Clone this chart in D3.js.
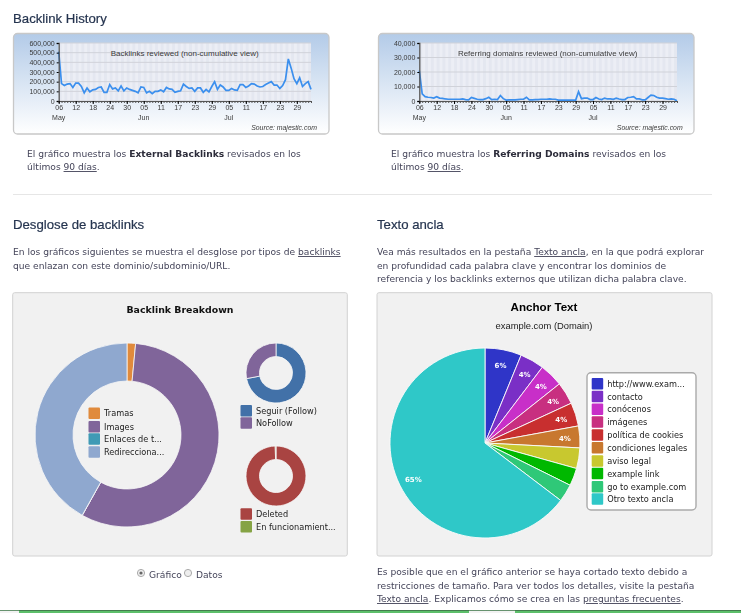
<!DOCTYPE html>
<html>
<head>
<meta charset="utf-8">
<script src="https://cdn.jsdelivr.net/npm/d3@7"></script>
<style>
  html, body { margin: 0; padding: 0; background: #fff; overflow: hidden; }
  svg { display: block; filter: blur(0.35px); }
  .body-text { font-family: "DejaVu Sans"; font-size: 9.15px; fill: #45455a; }
  .heading { font-family: "Liberation Sans"; font-size: 13.2px; fill: #25344f; stroke: #25344f; stroke-width: 0.2px; }
  .hist text { font-family: "Liberation Sans"; font-size: 7px; fill: #3a3a3a; }
  .legend-text { font-family: "DejaVu Sans"; font-size: 8.2px; fill: #222; }
</style>
</head>
<body>
<svg id="page" width="741" height="613"></svg>
<script>
var backlinksReviewed = [
  510, 180, 160, 175, 180, 140, 185, 185, 150, 85,
  135, 95, 115, 120, 140, 145, 90, 90, 170, 125,
  135, 105, 155, 105, 135, 120, 110, 100, 85, 145,
  140, 85, 100, 75, 100, 100, 115, 95, 140, 125,
  120, 90, 100, 105, 175, 150, 130, 135, 100, 135,
  135, 90, 120, 95, 150, 200, 120, 165, 145, 110,
  110, 130, 115, 110, 170, 170, 140, 155, 180, 175,
  155, 145, 150, 170, 185, 200, 165, 165, 130, 160,
  220, 435, 340, 230, 180, 240, 150, 180, 200, 120
];
var domainsReviewed = [
  21, 5, 3, 2.6, 2.4, 2, 3, 2, 1.8, 1.4,
  1.2, 1.2, 1.2, 1.2, 1.2, 1.4, 1, 0.8, 2.4, 1.8,
  1.2, 1, 1, 1.6, 2.6, 1, 1.2, 1, 3.8, 1.6,
  0.6, 0.8, 0.8, 0.8, 1, 1.2, 1.2, 2.6, 0.8, 0.8,
  1, 1, 1.2, 1.2, 1.2, 1.4, 1.2, 1.2, 0.6, 0.6,
  0.6, 0.6, 0.6, 0.6, 0.6, 6.4, 1.6, 2, 2, 1,
  1, 2.4, 1.4, 1, 2, 1.4, 1.4, 1.2, 2, 1.4,
  1, 1, 2.4, 2.6, 3, 1.4, 1.4, 0.8, 0.8, 2.4,
  4, 3.8, 2.6, 2, 2, 1.6, 1.2, 1.4, 1.2, 0.2
];
var dayTicks = [0, 6, 12, 18, 24, 30, 36, 42, 48, 54, 60, 66, 72, 78, 84];
var dayLabels = ["06", "12", "18", "24", "30", "05", "11", "17", "23", "29", "05", "11", "17", "23", "29"];
var monthTicks = [0, 30, 60];
var monthLabels = ["May", "Jun", "Jul"];

var breakdownLabels = ["Tramas", "Images", "Enlaces de t...", "Redirecciona..."];
var breakdownValues = [1.5, 56.6, 0, 41.9];
var breakdownColors = ["#e08a3c", "#80659a", "#3f9ab5", "#8fa8cf"];

var followLabels = ["Seguir (Follow)", "NoFollow"];
var followValues = [72, 28];
var followColors = ["#4271a8", "#80659a"];

var deletedLabels = ["Deleted", "En funcionamient..."];
var deletedValues = [99.6, 0.4];
var deletedColors = ["#a94442", "#85a344"];

var anchorLabels = ["http://www.exam...", "contacto", "conócenos", "imágenes", "política de cookies",
  "condiciones legales", "aviso legal", "example link", "go to example.com", "Otro texto ancla"];
var anchorValues = [6.2, 4.1, 4, 3.8, 4, 3.7, 3.5, 3, 3, 64.6];
var anchorColors = ["#2f35c8", "#7a2fc6", "#c82fc8", "#c82f80", "#c82f2f", "#c8782f", "#c8c82f", "#00b800", "#2fc878", "#2fc8c8"];

var svg = d3.select("#page");
var defs = svg.append("defs");

var grad = defs.append("linearGradient")
  .attr("id", "panelGrad")
  .attr("x1", 0).attr("y1", 0).attr("x2", 0).attr("y2", 1);
grad.append("stop").attr("offset", "0%").attr("stop-color", "#b3cbe8");
grad.append("stop").attr("offset", "100%").attr("stop-color", "#ffffff");

function textLine(x, y, cls, parts) {
  var t = svg.append("text").attr("class", cls).attr("x", x).attr("y", y);
  parts.forEach(p => {
    var s = t.append("tspan").text(p.t);
    if (p.b) s.attr("font-weight", "bold").style("fill", "#2c2c3a");
    if (p.u) s.attr("text-decoration", "underline");
  });
  return t;
}

function historyChart(opts) {
  var g = svg.append("g").attr("class", "hist");
  g.append("rect")
    .attr("x", opts.panelX).attr("y", 33.5)
    .attr("width", 315.5).attr("height", 100.5)
    .attr("rx", 4)
    .attr("fill", "url(#panelGrad)")
    .attr("stroke", "#c8c8c8").attr("stroke-width", 1.3);

  let x = d3.scaleLinear().domain([0, 89]).range(opts.xRange);
  let y = d3.scaleLinear().domain([0, opts.max]).range([101, 43]);

  // the striped plot background, one band every other day
  g.append("rect")
    .attr("x", x(0)).attr("y", y(opts.max))
    .attr("width", x(89) - x(0)).attr("height", y(0) - y(opts.max))
    .attr("fill", "#eceef5");
  g.selectAll("rect.band")
    .data(d3.range(0, 89, 2))
    .enter()
    .append("rect")
    .attr("class", "band")
    .attr("x", d => x(d))
    .attr("y", y(opts.max))
    .attr("width", x(1) - x(0))
    .attr("height", y(0) - y(opts.max))
    .attr("fill", "#e4e7f0");

  g.selectAll("line.grid")
    .data(opts.gridTicks)
    .enter()
    .append("line")
    .attr("class", "grid")
    .attr("x1", x(0)).attr("x2", x(89))
    .attr("y1", d => y(d)).attr("y2", d => y(d))
    .attr("stroke", "#d0d2d9");

  g.append("text")
    .attr("x", opts.titleX).attr("y", 56)
    .attr("text-anchor", "middle")
    .style("font-size", "8px")
    .text(opts.title);

  g.append("path")
    .datum(opts.values)
    .attr("fill", "none")
    .attr("stroke", "#3b8fee")
    .attr("stroke-width", 1.7)
    .attr("d", d3.line().x((d, i) => x(i)).y(d => y(d)));

  let yAxis = d3.axisLeft(y)
    .tickValues(opts.gridTicks)
    .tickSize(2)
    .tickPadding(2)
    .tickFormat(d => d3.format(",")(d * opts.unit));
  g.append("g").attr("transform", `translate(${x(0)},0)`).call(yAxis)
    .call(a => a.select(".domain").attr("stroke", "#555").attr("stroke-width", 1.3));

  // small tick for every day, labelled ones come from dayTicks
  g.append("g").attr("transform", "translate(0,101)")
    .call(d3.axisBottom(x).tickValues(d3.range(0, 90)).tickSize(2).tickFormat(""))
    .call(a => a.select(".domain").attr("stroke", "#555"))
    .call(a => a.selectAll("line").attr("stroke", "#555"));
  g.append("g").attr("transform", "translate(0,101)")
    .call(d3.axisBottom(x).tickValues(dayTicks).tickSize(3).tickPadding(1.5)
      .tickFormat((d, i) => dayLabels[i]))
    .call(a => a.select(".domain").remove());

  g.selectAll("text.month")
    .data(monthTicks)
    .enter()
    .append("text")
    .attr("class", "month")
    .attr("x", d => x(d))
    .attr("y", 119.5)
    .attr("text-anchor", "middle")
    .text((d, i) => monthLabels[i]);

  g.append("text")
    .attr("x", opts.sourceX).attr("y", 129.5)
    .attr("text-anchor", "end")
    .attr("font-style", "italic")
    .style("font-size", "6.9px")
    .text("Source: majestic.com");
}

historyChart({
  panelX: 13.5, xRange: [58.7, 311], max: 600, unit: 1000,
  gridTicks: [0, 100, 200, 300, 400, 500, 600],
  values: backlinksReviewed,
  title: "Backlinks reviewed (non-cumulative view)", titleX: 184.7, sourceX: 317
});
historyChart({
  panelX: 378.5, xRange: [419.3, 677], max: 40, unit: 1000,
  gridTicks: [0, 10, 20, 30, 40],
  values: domainsReviewed,
  title: "Referring domains reviewed (non-cumulative view)", titleX: 547.7, sourceX: 682.7
});

// headings and copy
textLine(13, 23, "heading", [{ t: "Backlink History" }]);
textLine(13, 229, "heading", [{ t: "Desglose de backlinks" }]);
textLine(377, 229, "heading", [{ t: "Texto ancla" }]);

textLine(27, 157, "body-text", [{ t: "El gráfico muestra los " }, { t: "External Backlinks", b: 1 }, { t: " revisados en los" }]);
textLine(27, 170, "body-text", [{ t: "últimos " }, { t: "90 días", u: 1 }, { t: "." }]);
textLine(391, 157, "body-text", [{ t: "El gráfico muestra los " }, { t: "Referring Domains", b: 1 }, { t: " revisados en los" }]);
textLine(391, 170, "body-text", [{ t: "últimos " }, { t: "90 días", u: 1 }, { t: "." }]);

svg.append("line").attr("x1", 13).attr("x2", 712).attr("y1", 194.5).attr("y2", 194.5).attr("stroke", "#e6e6e6");

textLine(13, 255, "body-text", [{ t: "En los gráficos siguientes se muestra el desglose por tipos de " }, { t: "backlinks", u: 1 }]);
textLine(13, 269, "body-text", [{ t: "que enlazan con este dominio/subdominio/URL." }]);
textLine(377, 255, "body-text", [{ t: "Vea más resultados en la pestaña " }, { t: "Texto ancla", u: 1 }, { t: ", en la que podrá explorar" }]);
textLine(377, 269, "body-text", [{ t: "en profundidad cada palabra clave y encontrar los dominios de" }]);
textLine(377, 282, "body-text", [{ t: "referencia y los backlinks externos que utilizan dicha palabra clave." }]);

textLine(377, 575, "body-text", [{ t: "Es posible que en el gráfico anterior se haya cortado texto debido a" }]);
textLine(377, 589, "body-text", [{ t: "restricciones de tamaño. Para ver todos los detalles, visite la pestaña" }]);
textLine(377, 602, "body-text", [{ t: "Texto ancla", u: 1 }, { t: ". Explicamos cómo se crea en las " }, { t: "preguntas frecuentes", u: 1 }, { t: "." }]);

// grey boxes behind the two pie panels
[[12.7, 334.6], [377, 335]].forEach(b => {
  svg.append("rect")
    .attr("x", b[0]).attr("y", 292.7)
    .attr("width", b[1]).attr("height", 263.3)
    .attr("rx", 2)
    .attr("fill", "#f1f1f1")
    .attr("stroke", "#d2d2d2");
});

function donut(cx, cy, outer, inner, values, colors) {
  let pie = d3.pie().sort(null);
  let arc = d3.arc().innerRadius(inner).outerRadius(outer);
  svg.append("g")
    .attr("transform", `translate(${cx},${cy})`)
    .selectAll("path")
    .data(pie(values))
    .enter()
    .append("path")
    .attr("d", arc)
    .attr("fill", (d, i) => colors[i])
    .attr("stroke", "#f8f8f8")
    .attr("stroke-width", 0.8);
}

function legend(x, rows, labels, colors, size) {
  let g = svg.append("g");
  g.selectAll("rect")
    .data(labels)
    .enter()
    .append("rect")
    .attr("x", x)
    .attr("y", (d, i) => rows[i] - size / 2)
    .attr("width", size).attr("height", size)
    .attr("rx", 1)
    .attr("fill", (d, i) => colors[i]);
  g.selectAll("text")
    .data(labels)
    .enter()
    .append("text")
    .attr("class", "legend-text")
    .attr("x", x + size + 4)
    .attr("y", (d, i) => rows[i] + 3)
    .text(d => d);
}

svg.append("text")
  .attr("x", 180).attr("y", 313)
  .attr("text-anchor", "middle")
  .attr("font-family", "DejaVu Sans").attr("font-weight", "bold").attr("font-size", 9.4)
  .attr("fill", "#111")
  .text("Backlink Breakdown");

donut(127, 435, 92, 54, breakdownValues, breakdownColors);
legend(88.5, [413.3, 426.7, 439, 452], breakdownLabels, breakdownColors, 11.5);
donut(276, 373, 30, 16.5, followValues, followColors);
legend(240.5, [410.7, 423], followLabels, followColors, 11.5);
donut(276, 476, 30, 16.5, deletedValues, deletedColors);
legend(240.5, [514, 526.7], deletedLabels, deletedColors, 11.5);

// Gráfico / Datos radios
[[141, true, "Gráfico"], [188, false, "Datos"]].forEach(r => {
  svg.append("circle")
    .attr("cx", r[0]).attr("cy", 573).attr("r", 3.6)
    .attr("fill", "#eee").attr("stroke", "#aaa");
  if (r[1]) svg.append("circle").attr("cx", r[0]).attr("cy", 573).attr("r", 1.6).attr("fill", "#666");
  textLine(r[0] + 8, 578, "body-text", [{ t: r[2] }]);
});

svg.append("text")
  .attr("x", 544).attr("y", 311)
  .attr("text-anchor", "middle")
  .attr("font-family", "Liberation Sans").attr("font-weight", "bold").attr("font-size", 11.6)
  .attr("fill", "#000")
  .text("Anchor Text");
svg.append("text")
  .attr("x", 544).attr("y", 329)
  .attr("text-anchor", "middle")
  .attr("font-family", "Liberation Sans").attr("font-size", 9.4)
  .attr("fill", "#222")
  .text("example.com (Domain)");

let anchorPie = d3.pie().sort(null)(anchorValues);
let anchorG = svg.append("g").attr("transform", "translate(485,443)");
anchorG.selectAll("path")
  .data(anchorPie)
  .enter()
  .append("path")
  .attr("d", d3.arc().innerRadius(0).outerRadius(95))
  .attr("fill", (d, i) => anchorColors[i])
  .attr("stroke", "#fbfbfb")
  .attr("stroke-width", 0.9);
let labelArc = d3.arc().innerRadius(80).outerRadius(80);
anchorG.selectAll("text")
  .data(anchorPie.filter(d => d.value > 3.6))
  .enter()
  .append("text")
  .attr("transform", d => `translate(${labelArc.centroid(d)})`)
  .attr("text-anchor", "middle")
  .attr("dy", 3)
  .attr("font-family", "DejaVu Sans").attr("font-weight", "bold").attr("font-size", 7)
  .attr("fill", "#fff")
  .text(d => Math.round(d.value) + "%");

svg.append("rect")
  .attr("x", 587).attr("y", 372.7)
  .attr("width", 109).attr("height", 137.3)
  .attr("rx", 4)
  .attr("fill", "#fff")
  .attr("stroke", "#aaa").attr("stroke-width", 1.4);
legend(591.7, [383.7, 396.5, 409.3, 422, 435, 447.7, 461, 473.5, 486.7, 499], anchorLabels, anchorColors, 11.5);

// strip of the next page section along the bottom edge
svg.append("rect").attr("x", 0).attr("y", 610).attr("width", 741).attr("height", 3).attr("fill", "#5cbf6a");
svg.append("rect").attr("x", 0).attr("y", 610).attr("width", 741).attr("height", 0.8).attr("fill", "#3f6b48");
svg.append("rect").attr("x", 0).attr("y", 610.8).attr("width", 19).attr("height", 2.2).attr("fill", "#f2f2f2");
svg.append("rect").attr("x", 469).attr("y", 610.8).attr("width", 46).attr("height", 2.2).attr("fill", "#f2f2f2");
</script>
</body>
</html>
